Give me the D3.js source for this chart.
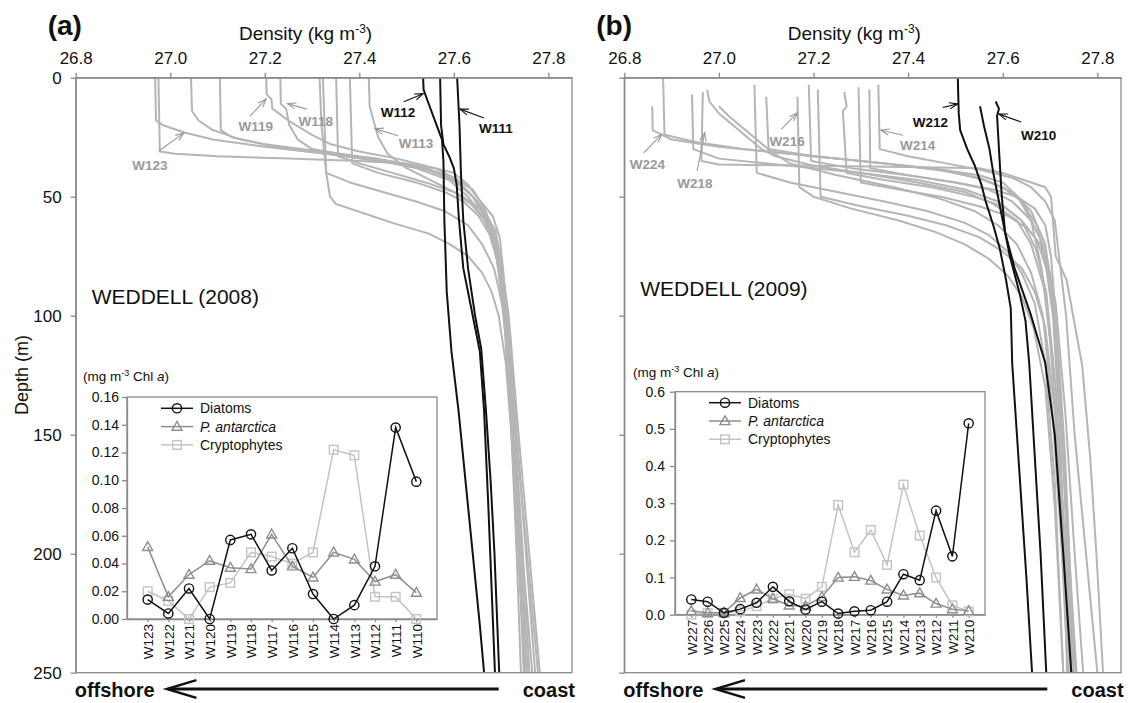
<!DOCTYPE html>
<html>
<head>
<meta charset="utf-8">
<script src="https://cdn.jsdelivr.net/npm/d3@7"></script>
<style>
  body { margin: 0; background: #fff; }
  svg { display: block; }
  text { font-family: "Liberation Sans", Arial, sans-serif; }
</style>
</head>
<body>
<svg id="fig" width="1132" height="703"></svg>
<script>
// ---- axis ticks ----
const densityTicks = [26.8, 27.0, 27.2, 27.4, 27.6, 27.8];
const depthTicks = [0, 50, 100, 150, 200, 250];

// ---- 2008 density profiles: [depth (m), density (kg m-3)] ----
const W123 = [[0,26.968],[18,26.970],[20,26.985],[23,27.030],[26,27.090],[29,27.200],[32,27.330],[35,27.450],[38,27.540],[42,27.600],[47,27.640],[55,27.665],[65,27.685],[80,27.700],[100,27.710],[150,27.722],[200,27.733],[250,27.742]];
const W122 = [[0,26.975],[31,26.978],[32,27.010],[33,27.100],[34,27.250],[35,27.400],[36,27.500],[38,27.560],[40,27.600],[45,27.630],[50,27.648],[58,27.682],[67,27.697],[82,27.705],[100,27.712],[150,27.726],[200,27.742],[250,27.756]];
const W121 = [[0,27.044],[14,27.046],[18,27.060],[22,27.090],[26,27.150],[30,27.250],[33,27.370],[36,27.470],[39,27.550],[43,27.600],[50,27.640],[60,27.670],[75,27.690],[100,27.706],[150,27.722],[200,27.737],[250,27.750]];
const W120 = [[0,27.105],[22,27.107],[25,27.130],[28,27.200],[31,27.320],[34,27.440],[37,27.520],[41,27.580],[46,27.620],[52,27.650],[60,27.676],[75,27.696],[100,27.711],[150,27.730],[200,27.746],[250,27.760]];
const W119 = [[0,27.203],[7,27.204],[9,27.214],[13,27.216],[18,27.250],[24,27.300],[28,27.340],[31,27.400],[34,27.480],[38,27.560],[42,27.600],[48,27.632],[55,27.660],[65,27.682],[80,27.700],[100,27.712],[150,27.730],[200,27.742],[250,27.756]];
const W118 = [[0,27.233],[11,27.234],[13,27.245],[20,27.252],[26,27.270],[30,27.300],[34,27.420],[38,27.520],[43,27.590],[50,27.630],[58,27.660],[70,27.686],[90,27.702],[120,27.716],[180,27.733],[250,27.752]];
const W117 = [[0,27.316],[20,27.320],[40,27.330],[50,27.338],[53,27.350],[56,27.395],[61,27.470],[65.5,27.547],[70,27.592],[75,27.630],[82,27.660],[90,27.680],[100,27.695],[120,27.710],[160,27.726],[200,27.737],[250,27.748]];
const W116 = [[0,27.323],[40,27.330],[44,27.380],[48,27.450],[52,27.520],[56,27.580],[62,27.630],[70,27.660],[80,27.685],[95,27.702],[120,27.716],[170,27.732],[250,27.766]];
const W115 = [[0,27.351],[33,27.355],[36,27.400],[40,27.470],[44,27.540],[48,27.600],[53,27.636],[60,27.666],[70,27.690],[85,27.706],[110,27.720],[160,27.737],[250,27.772]];
const W114 = [[0,27.380],[36,27.385],[40,27.440],[44,27.520],[48,27.580],[52,27.620],[58,27.652],[66,27.676],[80,27.696],[100,27.712],[150,27.732],[250,27.778]];
const W113 = [[0,27.420],[12,27.422],[18,27.430],[25,27.440],[32,27.460],[38,27.500],[44,27.560],[50,27.620],[56,27.662],[64,27.688],[80,27.702],[100,27.716],[150,27.737],[250,27.782]];
const W112 = [[0,27.535],[5,27.536],[10,27.545],[18,27.560],[26,27.575],[35,27.578],[60,27.580],[90,27.585],[115,27.595],[140,27.610],[170,27.625],[200,27.640],[230,27.655],[250,27.664]];
const W110 = [[0,27.571],[20,27.573],[28,27.578],[33,27.590],[38,27.600],[45,27.606],[60,27.611],[80,27.620],[100,27.640],[115,27.655],[140,27.664],[180,27.673],[220,27.681],[250,27.687]];
const W111 = [[0,27.607],[8,27.609],[20,27.612],[40,27.615],[60,27.620],[80,27.630],[100,27.645],[114,27.658],[140,27.668],[170,27.678],[200,27.686],[250,27.696]];

// ---- 2009 density profiles ----
const W227 = [[12,26.859],[22,26.860],[26,26.900],[29,27.000],[32,27.150],[35,27.300],[38,27.450],[41,27.550],[44,27.600],[50,27.632],[60,27.660],[80,27.682],[110,27.700],[160,27.720],[210,27.735],[250,27.745]];
const W224 = [[0,26.882],[24,26.885],[27,26.950],[30,27.050],[33,27.200],[36,27.350],[39,27.480],[43,27.560],[48,27.620],[56,27.660],[70,27.690],[100,27.710],[150,27.726],[200,27.740],[250,27.756]];
const W226 = [[7,26.943],[30,26.946],[34,27.000],[37,27.150],[40,27.300],[43,27.420],[47,27.520],[52,27.590],[60,27.640],[72,27.670],[90,27.692],[130,27.712],[190,27.730],[250,27.750]];
const W218 = [[6,26.966],[35,26.963],[36.5,27.000],[37,27.200],[37.5,27.400],[38,27.550],[40,27.600],[46,27.690],[50,27.702],[75,27.712],[85,27.735],[121,27.768],[160,27.785],[200,27.798],[250,27.812]];
const W225 = [[5,26.975],[10,26.980],[15,27.000],[20,27.030],[25,27.060],[30,27.090],[33,27.120],[37,27.200],[40,27.300],[44,27.420],[48,27.520],[53,27.580],[60,27.630],[70,27.660],[90,27.690],[120,27.705],[180,27.725],[250,27.740]];
const W223 = [[12,27.000],[16,27.020],[21,27.050],[26,27.080],[31,27.110],[36,27.150],[41,27.250],[46,27.370],[51,27.470],[56,27.540],[62,27.590],[70,27.630],[82,27.660],[100,27.685],[140,27.705],[200,27.725],[250,27.738]];
const W222 = [[3,27.075],[40,27.080],[44,27.150],[48,27.250],[52,27.350],[56,27.440],[61,27.520],[66,27.570],[73,27.610],[82,27.640],[95,27.668],[120,27.690],[170,27.710],[250,27.728]];
const W221 = [[8,27.100],[30,27.105],[33,27.200],[36,27.350],[39,27.470],[42,27.550],[46,27.600],[52,27.640],[62,27.672],[80,27.696],[110,27.712],[170,27.730],[250,27.752]];
const W216 = [[8,27.166],[46,27.170],[50,27.200],[55,27.280],[60,27.380],[65,27.460],[70,27.520],[76,27.570],[83,27.610],[92,27.640],[105,27.665],[130,27.690],[180,27.710],[250,27.728]];
const W220 = [[3,27.190],[35,27.195],[38,27.280],[41,27.400],[44,27.500],[47,27.570],[52,27.620],[60,27.660],[72,27.690],[95,27.712],[140,27.732],[200,27.752],[250,27.770]];
const W219 = [[5,27.209],[50,27.215],[54,27.300],[58,27.400],[62,27.480],[67,27.550],[73,27.600],[80,27.640],[90,27.668],[105,27.690],[140,27.710],[200,27.730],[250,27.745]];
const W217 = [[6,27.265],[12,27.270],[14,27.262],[40,27.270],[43,27.350],[46,27.450],[50,27.540],[54,27.600],[60,27.640],[68,27.672],[80,27.692],[100,27.706],[150,27.722],[250,27.736]];
const W215 = [[4,27.295],[44,27.300],[47,27.380],[50,27.470],[54,27.550],[58,27.610],[63,27.650],[70,27.680],[85,27.700],[110,27.716],[160,27.732],[250,27.752]];
const W213 = [[5,27.318],[38,27.320],[41,27.400],[44,27.500],[47,27.580],[50,27.630],[55,27.668],[62,27.690],[75,27.702],[100,27.712],[150,27.726],[250,27.746]];
const W214 = [[3,27.337],[30,27.340],[33,27.400],[36,27.480],[39,27.560],[42,27.620],[46,27.660],[52,27.690],[60,27.710],[80,27.722],[100,27.734],[150,27.752],[200,27.776],[250,27.800]];
const W212 = [[0,27.505],[15,27.507],[22,27.510],[30,27.525],[37,27.541],[45,27.555],[52,27.564],[62,27.580],[72,27.594],[85,27.607],[97,27.617],[120,27.620],[150,27.630],[180,27.640],[210,27.650],[250,27.662]];
const W211 = [[12,27.552],[20,27.560],[30,27.572],[40,27.580],[50,27.590],[60,27.600],[75,27.615],[90,27.635],[102,27.648],[120,27.656],[150,27.665],[200,27.680],[250,27.692]];
const W210 = [[10,27.585],[13,27.592],[16,27.588],[30,27.592],[50,27.598],[65,27.605],[80,27.625],[100,27.660],[120,27.690],[150,27.710],[200,27.728],[250,27.745]];

const offshore2008 = [W123, W122, W121, W120, W119, W118, W117, W116, W115, W114, W113];
const coastal2008 = [W112, W110, W111];
const offshore2009 = [W227, W224, W226, W218, W225, W223, W222, W221, W216, W220, W219, W217, W215, W213, W214];
const coastal2009 = [W212, W211, W210];

// ---- station labels: [density, depth] of text, arrow tail and arrow tip ----
const labels2008 = [
  { name: "W119", dark: false, text: [27.181, 22.4], tail: [27.169, 16.1], tip: [27.203, 8.9] },
  { name: "W118", dark: false, text: [27.308, 20.3], tail: [27.289, 13.2], tip: [27.248, 10.9] },
  { name: "W113", dark: false, text: [27.520, 29.5], tail: [27.482, 24.4], tip: [27.433, 21.4] },
  { name: "W123", dark: false, text: [26.957, 38.8], tail: [26.976, 30.8], tip: [27.029, 23.2] },
  { name: "W112", dark: true,  text: [27.482, 16.5], tail: [27.494, 10.1], tip: [27.535, 6.7] },
  { name: "W111", dark: true,  text: [27.689, 23.2], tail: [27.664, 16.9], tip: [27.613, 13.2] }
];
const labels2009 = [
  { name: "W216", dark: false, text: [27.144, 28.7], tail: [27.132, 21.6], tip: [27.166, 14.8] },
  { name: "W214", dark: false, text: [27.420, 30.4], tail: [27.389, 24.2], tip: [27.342, 22.0] },
  { name: "W224", dark: false, text: [26.849, 38.4], tail: [26.841, 31.6], tip: [26.879, 23.8] },
  { name: "W218", dark: false, text: [26.949, 46.3], tail: [26.954, 39.2], tip: [26.970, 23.1] },
  { name: "W212", dark: true,  text: [27.447, 20.7], tail: [27.473, 12.5], tip: [27.505, 11.0] },
  { name: "W210", dark: true,  text: [27.676, 26.2], tail: [27.639, 18.6], tip: [27.592, 15.3] }
];

// ---- phytoplankton composition along each transect (mg m-3 Chl a) ----
const stations2008 = ["W123","W122","W121","W120","W119","W118","W117","W116","W115","W114","W113","W112","W111","W110"];
const diatoms2008  = [0.014,0.004,0.022,0.000,0.057,0.061,0.035,0.051,0.018,0.000,0.010,0.038,0.138,0.099];
const pant2008     = [0.052,0.016,0.032,0.042,0.037,0.036,0.061,0.038,0.030,0.048,0.043,0.027,0.032,0.019];
const crypto2008   = [0.020,0.013,0.000,0.023,0.026,0.048,0.045,0.040,0.048,0.122,0.118,0.016,0.016,0.000];
const chlTicks2008 = [0, 0.02, 0.04, 0.06, 0.08, 0.10, 0.12, 0.14, 0.16];

const stations2009 = ["W227","W226","W225","W224","W223","W222","W221","W220","W219","W218","W217","W216","W215","W214","W213","W212","W211","W210"];
const diatoms2009  = [0.041,0.035,0.005,0.015,0.032,0.075,0.036,0.014,0.035,0.003,0.009,0.012,0.035,0.109,0.093,0.280,0.157,0.515];
const pant2009     = [0.010,0.005,0.005,0.045,0.068,0.043,0.025,0.023,0.048,0.100,0.102,0.092,0.068,0.052,0.058,0.030,0.015,0.010];
const crypto2009   = [0.000,0.005,0.005,0.009,0.023,0.043,0.055,0.043,0.075,0.295,0.168,0.228,0.134,0.350,0.213,0.100,0.025,0.009];
const chlTicks2009 = [0, 0.1, 0.2, 0.3, 0.4, 0.5, 0.6];

// ---- styling ----
const FRAME = "#8a8a8a";
const LIGHT = "#b5b5b5";
const MID = "#8e8e8e";
const CRYPTO = "#c3c3c3";

const svg = d3.select("#fig");

function styleAxis(g, fontSize) {
  g.select(".domain").attr("stroke", FRAME).attr("stroke-width", 1.3);
  g.selectAll(".tick line").attr("stroke", FRAME).attr("stroke-width", 1.3);
  g.selectAll(".tick text").attr("fill", "#111").attr("font-size", fontSize)
    .attr("font-family", '"Liberation Sans", Arial, sans-serif');
}

function arrowHead(g, x1, y1, x2, y2, len, spread, color, width) {
  const a = Math.atan2(y1 - y2, x1 - x2);
  const p1 = [x2 + len * Math.cos(a + spread), y2 + len * Math.sin(a + spread)];
  const p2 = [x2 + len * Math.cos(a - spread), y2 + len * Math.sin(a - spread)];
  g.append("path")
    .attr("d", `M${p1[0]},${p1[1]}L${x2},${y2}L${p2[0]},${p2[1]}`)
    .attr("fill", "none").attr("stroke", color).attr("stroke-width", width)
    .attr("stroke-linejoin", "miter");
}

function drawPanel(opt) {
  const left = opt.left, right = opt.right, top = 77.7, bottom = 672.7;
  const x = d3.scaleLinear().domain([26.8, 27.85]).range([left, right]);
  const y = d3.scaleLinear().domain([0, 250]).range([top, bottom]);
  const g = svg.append("g");

  // panel letter and x title
  g.append("text").attr("x", left - 28).attr("y", 35)
    .attr("font-size", 28).attr("font-weight", "bold").attr("fill", "#111").text(opt.letter);
  const title = g.append("text").attr("x", x(27.28) + 3).attr("y", 40)
    .attr("text-anchor", "middle").attr("font-size", 19).attr("fill", "#111");
  title.append("tspan").text("Density (kg m");
  title.append("tspan").attr("dy", -7).attr("font-size", 12).text("-3");
  title.append("tspan").attr("dy", 7).text(")");

  // profiles
  const line = d3.line().x(d => x(d[1])).y(d => y(d[0]));
  g.append("g").selectAll("path").data(opt.offshore).join("path")
    .attr("d", line).attr("fill", "none").attr("stroke", LIGHT)
    .attr("stroke-width", 2).attr("stroke-linejoin", "round");
  g.append("g").selectAll("path").data(opt.coastal).join("path")
    .attr("d", line).attr("fill", "none").attr("stroke", "#111")
    .attr("stroke-width", 2).attr("stroke-linejoin", "round");

  // frame and axes
  g.append("rect").attr("x", left).attr("y", top).attr("width", right - left)
    .attr("height", bottom - top).attr("fill", "none")
    .attr("stroke", FRAME).attr("stroke-width", 1.3);
  const ax = g.append("g").attr("transform", `translate(0,${top})`)
    .call(d3.axisTop(x).tickValues(densityTicks).tickFormat(d3.format(".1f"))
      .tickSize(5).tickSizeOuter(0).tickPadding(9));
  styleAxis(ax, 17);
  const ay = g.append("g").attr("transform", `translate(${left},0)`)
    .call(d3.axisLeft(y).tickValues(depthTicks).tickSize(5).tickSizeOuter(0).tickPadding(9)
      .tickFormat(opt.depthLabels ? d3.format("d") : () => ""));
  styleAxis(ay, 17);

  // station annotations
  opt.labels.forEach(l => {
    const col = l.dark ? "#111" : "#9a9a9a";
    const x1 = x(l.tail[0]), y1 = y(l.tail[1]), x2 = x(l.tip[0]), y2 = y(l.tip[1]);
    g.append("line").attr("x1", x1).attr("y1", y1).attr("x2", x2).attr("y2", y2)
      .attr("stroke", col).attr("stroke-width", 1.1);
    arrowHead(g, x1, y1, x2, y2, 9, 0.35, col, 1.1);
    g.append("text").attr("x", x(l.text[0])).attr("y", y(l.text[1]))
      .attr("text-anchor", "middle").attr("font-size", 13.5).attr("font-weight", "bold")
      .attr("fill", col).text(l.name);
  });

  // transect name
  g.append("text").attr("x", left + opt.nameDx).attr("y", y(opt.nameDepth))
    .attr("font-size", 21).attr("fill", "#111").text(opt.name);

  // offshore <- coast arrow
  const ay0 = 689;
  g.append("text").attr("x", left - 1).attr("y", 697).attr("font-size", 20)
    .attr("font-weight", "bold").attr("fill", "#111").text("offshore");
  g.append("line").attr("x1", left + 93).attr("y1", ay0).attr("x2", left + 423).attr("y2", ay0)
    .attr("stroke", "#111").attr("stroke-width", 3);
  arrowHead(g, left + 423, ay0, left + 91, ay0, 31, 0.29, "#111", 2.4);
  g.append("text").attr("x", left + 447).attr("y", 697).attr("font-size", 20)
    .attr("font-weight", "bold").attr("fill", "#111").text("coast");

  return { x, y };
}

function drawInset(opt) {
  const g = svg.append("g");
  const x = d3.scalePoint().domain(opt.stations).range([opt.left, opt.right]).padding(1);
  const y = d3.scaleLinear().domain([0, opt.max]).range([opt.bottom, opt.top]);

  g.append("rect").attr("x", opt.left).attr("y", opt.top)
    .attr("width", opt.right - opt.left).attr("height", opt.bottom - opt.top)
    .attr("fill", "#fff").attr("stroke", FRAME).attr("stroke-width", 1.3);

  const ay = g.append("g").attr("transform", `translate(${opt.left},0)`)
    .call(d3.axisLeft(y).tickValues(opt.ticks).tickFormat(d3.format(opt.fmt))
      .tickSize(5).tickSizeOuter(0).tickPadding(opt.pad));
  styleAxis(ay, 14);
  const ax = g.append("g").attr("transform", `translate(0,${opt.bottom})`)
    .call(d3.axisBottom(x).tickSize(3).tickSizeOuter(0).tickPadding(3));
  styleAxis(ax, 13.5);
  ax.selectAll(".tick text").attr("transform", "rotate(-90)")
    .attr("text-anchor", "end").attr("x", -5).attr("y", 0).attr("dy", "0.35em");

  // units label
  const u = g.append("text").attr("x", opt.unitX).attr("y", opt.unitY)
    .attr("font-size", 13.5).attr("fill", "#111");
  u.append("tspan").text("(mg m");
  u.append("tspan").attr("dy", -5).attr("font-size", 9).text("-3");
  u.append("tspan").attr("dy", 5).text(" Chl ");
  u.append("tspan").attr("font-style", "italic").text("a");
  u.append("tspan").text(")");

  const groups = [
    { name: "Cryptophytes", vals: opt.crypto, color: CRYPTO, shape: "square", italic: false },
    { name: "P. antarctica", vals: opt.pant, color: MID, shape: "triangle", italic: true },
    { name: "Diatoms", vals: opt.diatoms, color: "#111", shape: "circle", italic: false }
  ];

  function marker(sel, shape, color) {
    if (shape === "circle") {
      sel.append("circle").attr("r", 4.6).attr("fill", "none").attr("stroke", color).attr("stroke-width", 1.4);
    } else if (shape === "square") {
      sel.append("rect").attr("x", -4.3).attr("y", -4.3).attr("width", 8.6).attr("height", 8.6)
        .attr("fill", "none").attr("stroke", color).attr("stroke-width", 1.4);
    } else {
      sel.append("path").attr("d", "M0,-5.2L5,3.6L-5,3.6Z")
        .attr("fill", "none").attr("stroke", color).attr("stroke-width", 1.4);
    }
  }

  const line = d3.line().x((d, i) => x(opt.stations[i])).y(d => y(d));
  groups.forEach(s => {
    g.append("path").datum(s.vals).attr("d", line).attr("fill", "none")
      .attr("stroke", s.color).attr("stroke-width", 1.5);
    s.vals.forEach((v, i) => {
      marker(g.append("g").attr("transform", `translate(${x(opt.stations[i])},${y(v)})`), s.shape, s.color);
    });
  });

  // legend
  const legendOrder = [groups[2], groups[1], groups[0]];
  legendOrder.forEach((s, i) => {
    const ly = opt.legendY + i * 18.3, lx = opt.left + 34;
    g.append("line").attr("x1", lx).attr("x2", lx + 32).attr("y1", ly).attr("y2", ly)
      .attr("stroke", s.color).attr("stroke-width", 1.5);
    marker(g.append("g").attr("transform", `translate(${lx + 16},${ly})`), s.shape, s.color);
    g.append("text").attr("x", lx + 39).attr("y", ly).attr("dy", "0.35em")
      .attr("font-size", 14).attr("fill", "#111")
      .attr("font-style", s.italic ? "italic" : "normal").text(s.name);
  });
}

drawPanel({ left: 75.7, right: 572, letter: "(a)", offshore: offshore2008, coastal: coastal2008,
  labels: labels2008, depthLabels: true, name: "WEDDELL (2008)", nameDx: 16, nameDepth: 95 });
drawPanel({ left: 624.3, right: 1121, letter: "(b)", offshore: offshore2009, coastal: coastal2009,
  labels: labels2009, depthLabels: false, name: "WEDDELL (2009)", nameDx: 16, nameDepth: 91.7 });

// depth axis title
svg.append("text").attr("transform", "translate(28,375) rotate(-90)")
  .attr("text-anchor", "middle").attr("font-size", 18).attr("fill", "#111").text("Depth (m)");

drawInset({ stations: stations2008, diatoms: diatoms2008, pant: pant2008, crypto: crypto2008,
  max: 0.16, ticks: chlTicks2008, fmt: ".2f", left: 127, right: 437, top: 397, bottom: 619,
  pad: 3, unitX: 83, unitY: 381, legendY: 408.3 });
drawInset({ stations: stations2009, diatoms: diatoms2009, pant: pant2009, crypto: crypto2009,
  max: 0.6, ticks: chlTicks2009, fmt: ".1f", left: 675, right: 985, top: 391.7, bottom: 614.7,
  pad: 5, unitX: 633, unitY: 377, legendY: 402.7 });
</script>
</body>
</html>
